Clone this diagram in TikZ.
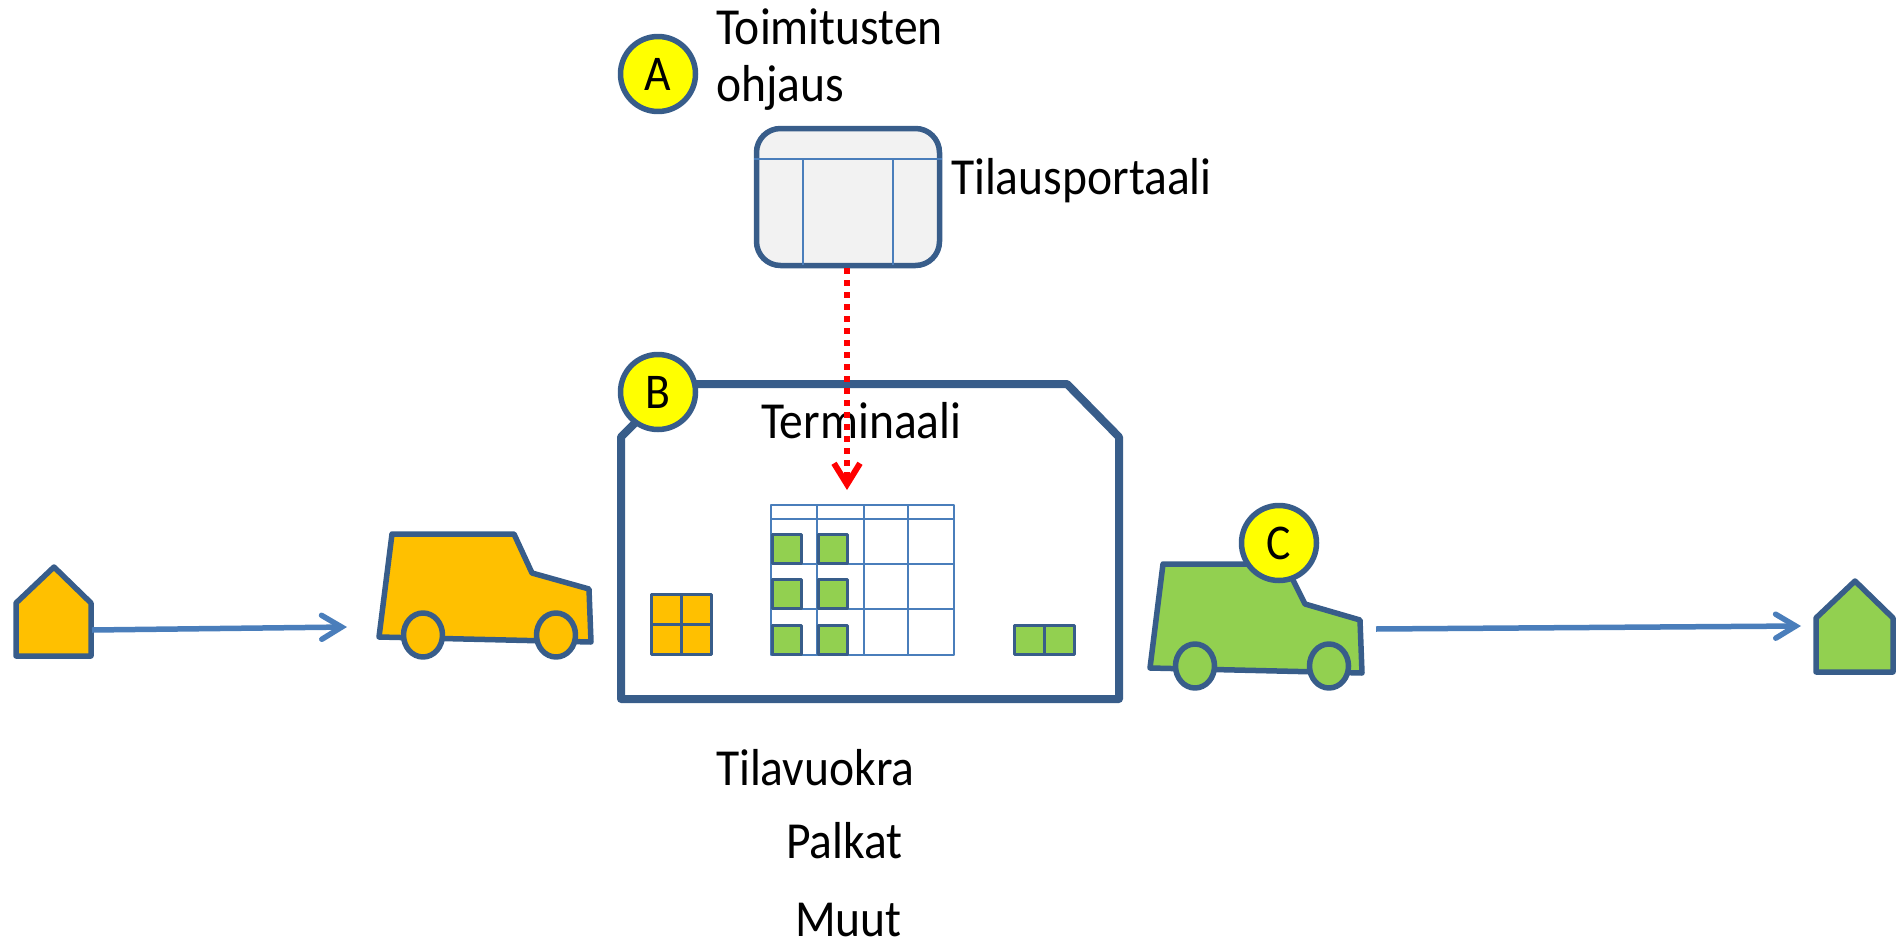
\documentclass[tikz,border=0pt]{standalone}
\usepackage{fontspec}
\setmainfont[FakeStretch=0.915]{Carlito}
\usetikzlibrary{arrows.meta,shapes.geometric}
\definecolor{edge}{HTML}{385D8A}
\definecolor{flowblue}{HTML}{4A7EBB}
\definecolor{amber}{HTML}{FFC000}
\definecolor{leaf}{HTML}{92D050}
\definecolor{pale}{HTML}{F2F2F2}
\definecolor{lemon}{HTML}{FFFF00}
\definecolor{signal}{HTML}{FF0000}
\begin{document}
\begin{tikzpicture}
	[x=1pt,y=-1pt,line join=round,
	txt/.style={inner sep=0pt,outer sep=0pt,font=\fontsize{52}{57}\selectfont},
	badge/.style={circle,draw=edge,line width=5.5pt,fill=lemon,minimum size=75pt,inner sep=0pt,font=\fontsize{50}{57}\selectfont},
	body/.style={draw=edge,line width=5.5pt},
	wheel/.style={ellipse,body,minimum width=39pt,minimum height=44pt,inner sep=0pt},
	cell/.style={draw=edge,line width=3pt,inner sep=0pt,outer sep=0pt,minimum width=29pt,minimum height=29pt,anchor=north west},
	gridline/.style={draw=flowblue,line width=2.5pt},
	flow/.style={->,draw=flowblue,line width=5.5pt,>={Straight Barb[length=20pt,width=24pt,line cap=round]}},
	orderline/.style={->,draw=signal,line width=5.5pt,dash pattern=on 6pt off 6pt,>={Straight Barb[length=21pt,width=26pt,line width=6pt]}}]
	\useasboundingbox (0,0) rectangle (1901,942);
	% portal
	\node[name=portal,draw=edge,line width=5.5pt,fill=pale,rounded corners=24pt,minimum width=183pt,minimum height=137pt,inner sep=0pt] at (848,197){};
	\draw[gridline](portal.west |- 0,159)--(portal.east |- 0,159);
	\draw[gridline](803,159)--(803,265);
	\draw[gridline](893,159)--(893,265);
	% terminal
	\draw[draw=edge,line width=8pt](621,437)--(674,384)--(1067,384)--(1119,437)--(1119,699)--(621,699)--cycle;
	\node[txt,name=terminaali,anchor=base west] at (761,438){Terminaali};
	% cells
	\draw[gridline](771,505) rectangle (954,655);
	\draw[gridline](771,519)--(954,519);
	\draw[gridline](771,564)--(954,564);
	\draw[gridline](771,609)--(954,609);
	\draw[gridline](817,505)--(817,655);
	\draw[gridline](864,505)--(864,655);
	\draw[gridline](908,505)--(908,655);
	\node[cell,name=g1,fill=leaf] at (772,534){};
	\node[cell,name=g2,fill=leaf] at (818,534){};
	\node[cell,name=g3,fill=leaf] at (772,579){};
	\node[cell,name=g4,fill=leaf] at (818,579){};
	\node[cell,name=g5,fill=leaf] at (772,625){};
	\node[cell,name=g6,fill=leaf] at (818,625){};
	\node[cell,name=o1,fill=amber,minimum width=30pt,minimum height=30pt] at (651,594){};
	\node[cell,name=o2,fill=amber,minimum width=30pt,minimum height=30pt] at (681,594){};
	\node[cell,name=o3,fill=amber,minimum width=30pt,minimum height=30pt] at (651,624){};
	\node[cell,name=o4,fill=amber,minimum width=30pt,minimum height=30pt] at (681,624){};
	\node[cell,name=g7,fill=leaf,minimum width=30pt] at (1014,625){};
	\node[cell,name=g8,fill=leaf,minimum width=30pt] at (1044,625){};
	% sender, truck
	\draw[body,fill=amber](16,603)--(54,567)--(91,603)--(91,656)--(16,656)--cycle;
	\draw[body,fill=amber](392,534)--(514,534)--(532,573)--(589,589)--(591,642)--(379,637)--cycle;
	\node[wheel,name=w1,fill=amber] at (423,635){};
	\node[wheel,name=w2,fill=amber] at (556,635){};
	\coordinate (sendout) at (92,630);
	\coordinate (truckin) at (347,627);
	\draw[flow](sendout)--(truckin);
	% truck, receiver
	\draw[body,fill=leaf](1163,564)--(1285,564)--(1305,604)--(1360,620)--(1362,673)--(1150,668)--cycle;
	\node[wheel,name=w3,fill=leaf] at (1195,666){};
	\node[wheel,name=w4,fill=leaf] at (1329,666){};
	\draw[body,fill=leaf](1816,618)--(1855,581)--(1893,618)--(1893,672)--(1816,672)--cycle;
	\coordinate (truckout) at (1376,629);
	\coordinate (recvin) at (1801,626);
	\draw[flow](truckout)--(recvin);
	% order line
	\coordinate (orderend) at (847,490);
	\draw[orderline](portal.south -| orderend)--(orderend);
	% badges
	\node[badge,name=A] at (658,74){A};
	\node[badge,name=B] at (658,392){B};
	\node[badge,name=C] at (1279,543){C};
	% texts
	\node[txt,name=ohjaus,anchor=north west,align=left] at (716,9){Toimitusten\\ohjaus};
	\node[txt,name=tilaus,anchor=base west] at (951,194){Tilausportaali};
	\node[txt,name=vuokra,anchor=base west] at (716,785){Tilavuokra};
	\node[txt,name=palkat,anchor=base west] at (786,858){Palkat};
	\node[txt,name=muut,anchor=base west] at (795,936){Muut};
\end{tikzpicture}
\end{document}
